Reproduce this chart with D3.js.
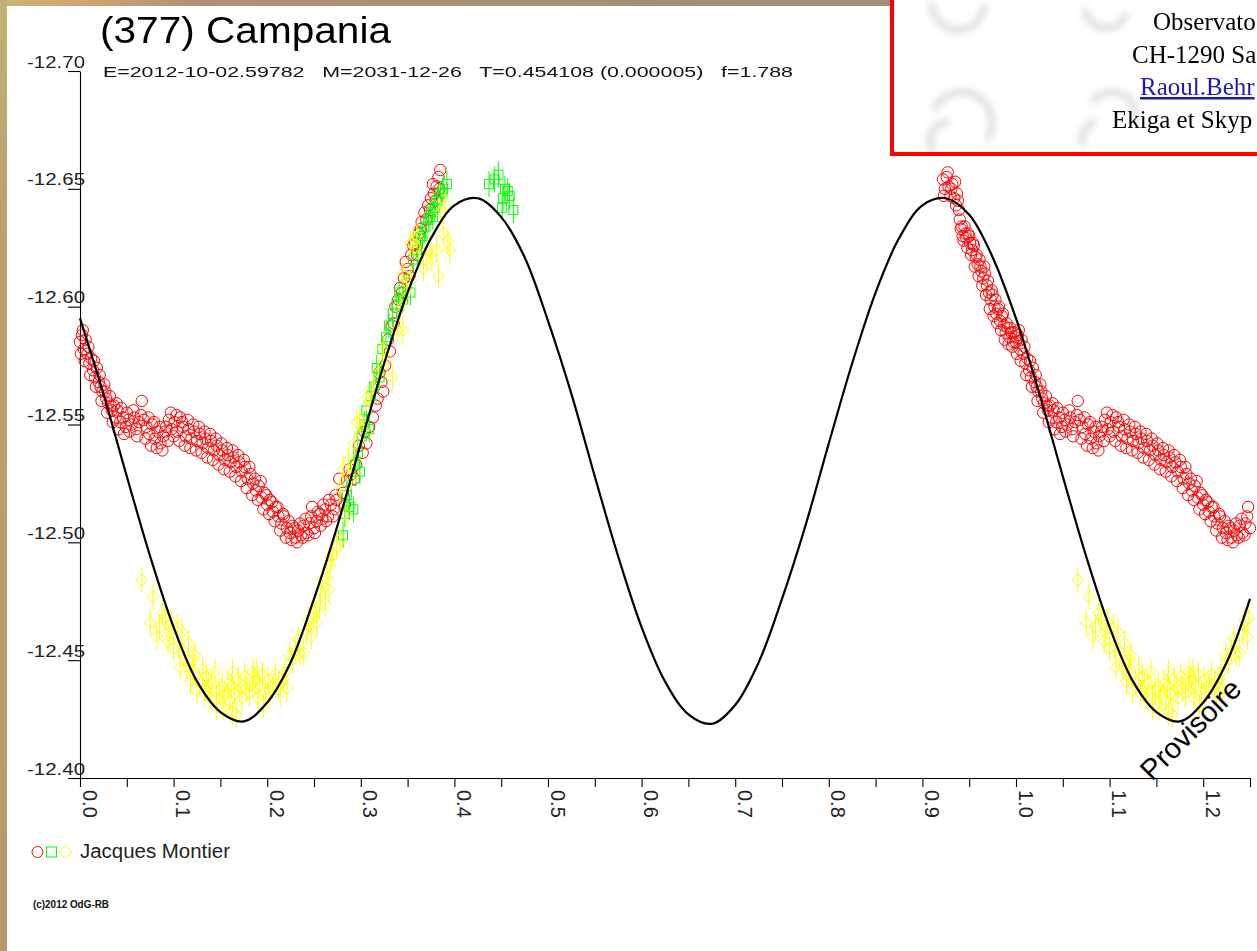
<!DOCTYPE html>
<html>
<head>
<meta charset="utf-8">
<title>(377) Campania</title>
<script src="https://cdn.jsdelivr.net/npm/d3@7"></script>
<style>
  html, body { margin: 0; padding: 0; background: #fff; overflow: hidden; }
  svg { display: block; }
  .sans { font-family: "Liberation Sans", Arial, Helvetica, sans-serif; }
  .serif { font-family: "Liberation Serif", "Times New Roman", Times, serif; }
</style>
</head>
<body>
<div id="chart"></div>
<script>
// ---------------------------------------------------------------
// Texts
// ---------------------------------------------------------------
const titleText = "(377) Campania";
const subtitleText = "E=2012-10-02.59782   M=2031-12-26   T=0.454108 (0.000005)   f=1.788";
const observerName = "Jacques Montier";
const creditText = "(c)2012 OdG-RB";
const stampText = "Provisoire";
const headerLines = ["Observato", "CH-1290 Sa", "Raoul.Behr", "Ekiga et Skyp"];

// ---------------------------------------------------------------
// Axes
// ---------------------------------------------------------------
const yTicks = [-12.70, -12.65, -12.60, -12.55, -12.50, -12.45, -12.40];
const yTickLabels = ["-12.70", "-12.65", "-12.60", "-12.55", "-12.50", "-12.45", "-12.40"];
const xMajorTicks = [0.0, 0.1, 0.2, 0.3, 0.4, 0.5, 0.6, 0.7, 0.8, 0.9, 1.0, 1.1, 1.2];
const xTickLabels = ["0.0", "0.1", "0.2", "0.3", "0.4", "0.5", "0.6", "0.7", "0.8", "0.9", "1.0", "1.1", "1.2"];
const xMinorTicks = [0.05, 0.15, 0.25, 0.35, 0.45, 0.55, 0.65, 0.75, 0.85, 0.95, 1.05, 1.15, 1.25];
const phaseMax = 1.25;

// ---------------------------------------------------------------
// Fitted model (phase in [0,1), reduced magnitude)
// ---------------------------------------------------------------
const modelPhase = [0.000, 0.025, 0.050, 0.075, 0.100, 0.125, 0.150, 0.175, 0.200, 0.225,
                    0.250, 0.275, 0.300, 0.325, 0.350, 0.375, 0.400, 0.425, 0.450, 0.475,
                    0.500, 0.525, 0.550, 0.575, 0.600, 0.625, 0.650, 0.675, 0.700, 0.725,
                    0.750, 0.775, 0.800, 0.825, 0.850, 0.875, 0.900, 0.925, 0.950, 0.975];
const modelMag   = [-12.595, -12.563, -12.528, -12.494, -12.464, -12.441, -12.428, -12.424, -12.432, -12.449,
                    -12.476, -12.507, -12.542, -12.576, -12.606, -12.629, -12.643, -12.646, -12.638, -12.621,
                    -12.594, -12.563, -12.528, -12.494, -12.464, -12.441, -12.427, -12.423, -12.431, -12.449,
                    -12.476, -12.507, -12.542, -12.576, -12.606, -12.629, -12.643, -12.646, -12.639, -12.621];

// ---------------------------------------------------------------
// Observations: [phase, magnitude]
// ---------------------------------------------------------------
const redCircles = [
  [0.000,-12.585],[0.002,-12.588],[0.004,-12.582],[0.006,-12.586],[0.008,-12.580],[0.010,-12.576],
  [0.012,-12.578],[0.014,-12.573],[0.016,-12.570],[0.018,-12.574],[0.020,-12.568],[0.022,-12.566],
  [0.024,-12.564],[0.026,-12.567],[0.028,-12.561],[0.030,-12.559],[0.032,-12.562],[0.034,-12.556],
  [0.036,-12.558],[0.038,-12.553],[0.040,-12.556],[0.043,-12.551],[0.046,-12.553],[0.049,-12.549],
  [0.052,-12.552],[0.055,-12.550],[0.058,-12.553],[0.061,-12.545],[0.063,-12.551],[0.066,-12.560],
  [0.068,-12.552],[0.071,-12.549],[0.074,-12.546],[0.077,-12.550],[0.080,-12.544],[0.083,-12.547],
  [0.086,-12.542],[0.089,-12.545],[0.092,-12.549],[0.095,-12.552],[0.098,-12.548],[0.101,-12.551],
  [0.104,-12.547],[0.107,-12.553],[0.110,-12.549],[0.113,-12.545],[0.116,-12.548],[0.119,-12.544],
  [0.122,-12.547],[0.125,-12.543],[0.128,-12.546],[0.131,-12.542],[0.134,-12.544],[0.137,-12.540],
  [0.140,-12.543],[0.143,-12.539],[0.146,-12.541],[0.149,-12.537],[0.152,-12.539],[0.155,-12.535],
  [0.158,-12.537],[0.161,-12.534],[0.164,-12.536],[0.167,-12.532],[0.170,-12.534],[0.173,-12.530],
  [0.176,-12.532],[0.179,-12.527],[0.182,-12.529],[0.185,-12.525],[0.188,-12.522],[0.191,-12.524],
  [0.194,-12.519],[0.197,-12.521],[0.200,-12.516],[0.203,-12.518],[0.206,-12.513],[0.209,-12.515],
  [0.212,-12.511],[0.215,-12.508],[0.218,-12.511],[0.221,-12.506],[0.224,-12.504],[0.227,-12.507],
  [0.230,-12.502],[0.233,-12.505],[0.236,-12.503],[0.239,-12.507],[0.242,-12.504],[0.245,-12.508],
  [0.248,-12.515],[0.250,-12.506],[0.253,-12.509],[0.256,-12.512],[0.259,-12.510],[0.262,-12.514],
  [0.265,-12.511],[0.268,-12.516],[0.271,-12.514],[0.274,-12.518],[0.277,-12.527],
  [0.001,-12.580],[0.003,-12.590],[0.005,-12.577],[0.009,-12.583],[0.011,-12.571],[0.015,-12.577],
  [0.017,-12.566],[0.021,-12.571],[0.023,-12.560],[0.027,-12.564],[0.029,-12.555],[0.033,-12.558],
  [0.035,-12.551],[0.039,-12.559],
  [0.041,-12.548],[0.044,-12.557],[0.047,-12.546],[0.050,-12.555],[0.053,-12.547],[0.057,-12.556],
  [0.060,-12.548],[0.065,-12.554],[0.070,-12.544],[0.073,-12.553],[0.076,-12.541],[0.079,-12.551],
  [0.082,-12.540],[0.085,-12.549],[0.088,-12.539],[0.091,-12.547],[0.094,-12.543],[0.097,-12.555],
  [0.100,-12.545],[0.103,-12.554],[0.106,-12.543],[0.109,-12.551],[0.112,-12.541],[0.115,-12.552],
  [0.118,-12.540],[0.121,-12.550],[0.124,-12.539],[0.127,-12.549],[0.130,-12.538],[0.133,-12.547],
  [0.136,-12.536],[0.139,-12.546],[0.142,-12.535],[0.145,-12.544],[0.148,-12.533],[0.151,-12.542],
  [0.154,-12.531],[0.157,-12.540],[0.160,-12.530],[0.163,-12.539],[0.166,-12.528],[0.169,-12.537],
  [0.172,-12.526],[0.175,-12.535],[0.178,-12.523],[0.181,-12.532],[0.184,-12.520],[0.187,-12.527],
  [0.190,-12.518],[0.193,-12.526],[0.196,-12.514],[0.199,-12.520],[0.202,-12.512],[0.205,-12.517],
  [0.208,-12.509],[0.211,-12.515],[0.214,-12.505],[0.217,-12.512],[0.220,-12.502],[0.223,-12.509],
  [0.226,-12.501],[0.229,-12.506],[0.232,-12.500],[0.235,-12.508],[0.238,-12.502],[0.241,-12.510],
  [0.244,-12.503],[0.247,-12.511],[0.251,-12.504],[0.254,-12.513],[0.257,-12.507],[0.260,-12.516],
  [0.263,-12.509],[0.266,-12.518],[0.270,-12.511],[0.273,-12.520],
  [0.281,-12.521],[0.285,-12.526],[0.290,-12.529],[0.295,-12.533],[0.302,-12.538],[0.306,-12.542],
  [0.313,-12.553],[0.318,-12.561],[0.322,-12.568],[0.326,-12.575],[0.329,-12.586],[0.333,-12.592],
  [0.337,-12.600],[0.342,-12.608],[0.346,-12.612],[0.350,-12.616],[0.354,-12.622],[0.358,-12.627],
  [0.362,-12.631],[0.365,-12.636],[0.368,-12.640],[0.372,-12.643],[0.375,-12.646],[0.378,-12.648],
  [0.381,-12.651],[0.383,-12.655],[0.385,-12.658],
  [0.283,-12.516],[0.288,-12.531],[0.293,-12.527],[0.298,-12.541],[0.304,-12.547],[0.309,-12.549],
  [0.316,-12.558],[0.320,-12.572],[0.324,-12.564],[0.331,-12.581],[0.335,-12.593],[0.340,-12.603],
  [0.344,-12.606],[0.348,-12.619],[0.352,-12.613],[0.356,-12.626],[0.360,-12.622],[0.364,-12.633],
  [0.370,-12.637],[0.374,-12.641],[0.377,-12.652],[0.380,-12.645],[0.384,-12.650],
  [0.922,-12.654],[0.924,-12.650],[0.926,-12.655],[0.928,-12.651],[0.930,-12.647],[0.932,-12.652],
  [0.934,-12.646],[0.936,-12.643],[0.937,-12.648],[0.939,-12.641],[0.941,-12.633],[0.943,-12.630],
  [0.945,-12.634],[0.947,-12.629],[0.949,-12.631],[0.951,-12.627],[0.953,-12.624],[0.955,-12.626],
  [0.957,-12.621],[0.959,-12.618],[0.961,-12.620],[0.963,-12.615],[0.965,-12.612],[0.967,-12.614],
  [0.969,-12.609],[0.971,-12.606],[0.973,-12.603],[0.975,-12.605],[0.977,-12.600],[0.979,-12.597],
  [0.981,-12.599],[0.983,-12.594],[0.985,-12.596],[0.987,-12.592],[0.989,-12.589],[0.991,-12.591],
  [0.993,-12.587],[0.995,-12.589],[0.997,-12.585],[0.999,-12.587],
  [0.923,-12.647],[0.927,-12.657],[0.931,-12.650],[0.935,-12.653],[0.938,-12.645],[0.940,-12.637],
  [0.942,-12.634],[0.944,-12.628],[0.946,-12.631],[0.948,-12.625],[0.950,-12.630],[0.952,-12.622],
  [0.954,-12.627],[0.956,-12.617],[0.958,-12.622],[0.960,-12.613],[0.962,-12.617],[0.964,-12.609],
  [0.966,-12.617],[0.968,-12.605],[0.970,-12.611],[0.972,-12.599],[0.974,-12.607],[0.976,-12.596],
  [0.978,-12.603],[0.980,-12.593],[0.982,-12.600],[0.984,-12.590],[0.986,-12.597],[0.988,-12.586],
  [0.990,-12.593],[0.992,-12.584],[0.994,-12.591],[0.996,-12.583],[0.998,-12.589]
];

const greenSquares = [
  [0.281,-12.503],[0.283,-12.512],[0.285,-12.520],[0.288,-12.515],[0.290,-12.526],[0.292,-12.514],
  [0.294,-12.533],[0.297,-12.538],[0.299,-12.530],[0.301,-12.545],[0.304,-12.550],[0.306,-12.556],
  [0.309,-12.548],[0.311,-12.562],[0.314,-12.566],[0.317,-12.574],[0.320,-12.570],[0.323,-12.582],
  [0.327,-12.587],[0.330,-12.592],[0.334,-12.597],[0.338,-12.601],[0.341,-12.606],[0.345,-12.603],
  [0.349,-12.610],[0.353,-12.606],[0.356,-12.620],[0.360,-12.624],[0.363,-12.629],[0.366,-12.630],
  [0.369,-12.634],[0.372,-12.637],[0.375,-12.640],[0.377,-12.638],[0.379,-12.642],[0.382,-12.645],
  [0.385,-12.648],[0.388,-12.650],[0.392,-12.652],
  [0.437,-12.652],[0.443,-12.654],[0.447,-12.656],[0.451,-12.642],[0.452,-12.646],[0.454,-12.650],
  [0.457,-12.649],[0.459,-12.647],[0.463,-12.641]
];

const yellowDiamonds = [
  [0.066,-12.484],[0.078,-12.477],[0.075,-12.466],[0.085,-12.464],[0.082,-12.460],[0.091,-12.468],
  [0.098,-12.466],[0.096,-12.462],[0.104,-12.464],[0.109,-12.462],[0.105,-12.456],[0.116,-12.457],
  [0.107,-12.447],[0.114,-12.447],[0.121,-12.450],[0.120,-12.445],[0.125,-12.437],[0.128,-12.441],
  [0.135,-12.443],[0.137,-12.439],[0.139,-12.434],[0.146,-12.434],[0.153,-12.430],[0.152,-12.439],
  [0.158,-12.440],[0.163,-12.445],[0.162,-12.439],[0.169,-12.442],[0.167,-12.427],[0.173,-12.434],
  [0.178,-12.438],[0.184,-12.440],[0.189,-12.445],[0.185,-12.445],[0.192,-12.439],[0.190,-12.434],
  [0.198,-12.436],[0.201,-12.442],[0.206,-12.439],[0.212,-12.440],[0.217,-12.442],[0.221,-12.438],
  [0.224,-12.452],[0.230,-12.454],[0.235,-12.453],[0.239,-12.453],[0.242,-12.462],[0.244,-12.467],
  [0.249,-12.468],[0.253,-12.466],[0.256,-12.473],[0.262,-12.474],[0.259,-12.484],[0.264,-12.485],
  [0.267,-12.490],[0.269,-12.494],[0.270,-12.495],[0.274,-12.498],[0.278,-12.501],[0.163,-12.428],
  [0.146,-12.430],
  [0.088,-12.470],[0.094,-12.458],[0.100,-12.455],[0.111,-12.452],[0.118,-12.441],[0.123,-12.452],
  [0.131,-12.446],[0.133,-12.436],[0.141,-12.440],[0.144,-12.445],[0.149,-12.437],[0.155,-12.435],
  [0.160,-12.433],[0.165,-12.436],[0.171,-12.438],[0.176,-12.443],[0.181,-12.436],[0.187,-12.441],
  [0.195,-12.444],[0.196,-12.431],[0.203,-12.437],[0.209,-12.444],[0.214,-12.436],[0.219,-12.445],
  [0.227,-12.450],[0.233,-12.459],[0.247,-12.460],[0.251,-12.472],[0.257,-12.479],[0.266,-12.480],
  [0.278,-12.523],[0.281,-12.531],[0.284,-12.512],[0.287,-12.535],[0.290,-12.528],[0.293,-12.542],
  [0.296,-12.551],[0.299,-12.552],[0.303,-12.548],[0.306,-12.561],[0.310,-12.560],[0.314,-12.566],
  [0.319,-12.572],[0.324,-12.582],[0.328,-12.578],[0.334,-12.570],[0.339,-12.590],[0.342,-12.599],
  [0.345,-12.590],[0.345,-12.614],[0.349,-12.606],[0.353,-12.611],[0.353,-12.627],[0.356,-12.627],
  [0.360,-12.630],[0.363,-12.622],[0.367,-12.616],[0.370,-12.620],[0.374,-12.625],[0.376,-12.620],
  [0.381,-12.624],[0.383,-12.613],[0.385,-12.640],[0.388,-12.631],[0.390,-12.643],[0.393,-12.628],
  [0.395,-12.624]
];

// one-sigma photometric errors per series (mag)
const greenError = 0.0055;
const yellowError = 0.0055;

// ---------------------------------------------------------------
// Layout
// ---------------------------------------------------------------
const W = 1257, H = 951;
const svg = d3.select("#chart").append("svg").attr("width", W).attr("height", H);
const defs = svg.append("defs");

const x = d3.scaleLinear().domain([0, phaseMax]).range([80, 1250]);
const y = d3.scaleLinear().domain([-12.40, -12.70]).range([778, 71]);

// page frame: tinted strip on the top and left edges
const topGrad = defs.append("linearGradient").attr("id", "topGrad").attr("x1", 0).attr("x2", 1).attr("y1", 0).attr("y2", 0);
[["0%", "#c4b578"], ["8%", "#d5a573"], ["22%", "#ad9177"], ["100%", "#a28c78"]]
  .forEach(([o, c]) => topGrad.append("stop").attr("offset", o).attr("stop-color", c));
const leftGrad = defs.append("linearGradient").attr("id", "leftGrad").attr("x1", 0).attr("x2", 0).attr("y1", 0).attr("y2", 1);
[["0%", "#c0b276"], ["25%", "#b9a072"], ["100%", "#b8986e"]]
  .forEach(([o, c]) => leftGrad.append("stop").attr("offset", o).attr("stop-color", c));

svg.append("rect").attr("width", W).attr("height", H).attr("fill", "#fff");
svg.append("rect").attr("x", 0).attr("y", 0).attr("width", 892).attr("height", 6).attr("fill", "url(#topGrad)");
svg.append("rect").attr("x", 0).attr("y", 0).attr("width", 7).attr("height", H).attr("fill", "url(#leftGrad)");

// ---------------------------------------------------------------
// Header box, top right
// ---------------------------------------------------------------
const box = svg.append("g");
defs.append("clipPath").attr("id", "boxClip").append("rect").attr("x", 894).attr("y", 0).attr("width", 400).attr("height", 152);
defs.append("filter").attr("id", "soft").attr("x", "-50%").attr("y", "-50%").attr("width", "200%").attr("height", "200%")
  .append("feGaussianBlur").attr("stdDeviation", 3.5);
box.append("rect").attr("x", 892).attr("y", -10).attr("width", 400).attr("height", 164).attr("fill", "#fff");
const marble = box.append("g").attr("clip-path", "url(#boxClip)").append("g").attr("filter", "url(#soft)")
  .attr("fill", "none").attr("stroke", "#d4d4d4").attr("stroke-width", 7).attr("opacity", 0.75);
const swirl = d3.arc();
[[958, 4, 26, 1.6, 4.8], [1106, 6, 22, 1.9, 4.6], [962, 122, 30, -1.2, 2.2], [1112, 116, 24, -1.0, 1.9],
 [948, 140, 18, 4.0, 6.4], [1098, 138, 16, 4.2, 6.2]]
  .forEach(([cx, cy, r, a0, a1]) => marble.append("path")
    .attr("transform", `translate(${cx},${cy})`)
    .attr("d", swirl({ innerRadius: r, outerRadius: r, startAngle: a0, endAngle: a1 })));
box.append("rect").attr("x", 892).attr("y", -10).attr("width", 400).attr("height", 164)
  .attr("fill", "none").attr("stroke", "#ff0000").attr("stroke-width", 4);
const headerX = [1153, 1132, 1140, 1112];
const headerY = [30, 63, 95, 128];
headerLines.forEach((t, i) => {
  const tx = box.append("text").attr("class", "serif").attr("x", headerX[i]).attr("y", headerY[i])
    .attr("font-size", 25).attr("fill", i === 2 ? "#1c1cb4" : "#000").text(t);
  if (i === 2) tx.attr("text-decoration", "underline");
});

// ---------------------------------------------------------------
// Title block
// ---------------------------------------------------------------
svg.append("text").attr("class", "sans").attr("x", 100).attr("y", 43).attr("font-size", 36)
  .attr("textLength", 291).attr("lengthAdjust", "spacingAndGlyphs").attr("fill", "#000").text(titleText);
svg.append("text").attr("class", "sans").attr("x", 103).attr("y", 77).attr("font-size", 15.5)
  .attr("xml:space", "preserve").style("white-space", "pre")
  .attr("textLength", 690).attr("lengthAdjust", "spacingAndGlyphs").attr("fill", "#111").text(subtitleText);

// ---------------------------------------------------------------
// Axes
// ---------------------------------------------------------------
const yAxis = d3.axisLeft(y).tickValues(yTicks).tickSize(12).tickSizeOuter(0)
  .tickFormat((d, i) => yTickLabels[i]);
const gy = svg.append("g").attr("transform", "translate(80,0)").call(yAxis);
gy.selectAll("path, line").attr("stroke", "#000").attr("stroke-width", 1.1);
gy.selectAll("text").attr("class", "sans").attr("x", 0).attr("dy", null).attr("y", 0)
  .attr("transform", "translate(5,-4)").attr("font-size", 16.5).attr("fill", "#222")
  .attr("textLength", 58).attr("lengthAdjust", "spacingAndGlyphs").attr("text-anchor", "end");
gy.attr("font-family", null).attr("font-size", null);

const xAxis = d3.axisBottom(x).tickValues(xMajorTicks.concat(xMinorTicks)).tickSize(9).tickSizeOuter(0)
  .tickFormat(d => { const i = xMajorTicks.indexOf(d); return i >= 0 ? xTickLabels[i] : ""; });
const gx = svg.append("g").attr("transform", "translate(0,778)").call(xAxis);
gx.select(".domain").remove();
gx.selectAll("line").attr("stroke", "#000").attr("stroke-width", 1.1);
gx.selectAll("text").attr("class", "sans").attr("x", 0).attr("y", 0).attr("dy", null)
  .attr("transform", "translate(2,12) rotate(90)").attr("text-anchor", "start")
  .attr("font-size", 20).attr("fill", "#222");
gx.attr("font-family", null).attr("font-size", null);
svg.append("line").attr("x1", 68).attr("x2", x(phaseMax)).attr("y1", 778.5).attr("y2", 778.5)
  .attr("stroke", "#000").attr("stroke-width", 1.1);

// ---------------------------------------------------------------
// Points, wrapped in phase up to phaseMax
// ---------------------------------------------------------------
const wrap = pts => pts.concat(pts.filter(p => p[0] + 1 <= phaseMax).map(p => [p[0] + 1, p[1]]));
const plot = svg.append("g");

plot.append("g").selectAll("circle").data(wrap(redCircles)).join("circle")
  .attr("cx", d => x(d[0])).attr("cy", d => y(d[1])).attr("r", 5.7)
  .attr("fill", "none").attr("stroke", "#ff0000").attr("stroke-width", 1);

const gGreen = plot.append("g").attr("stroke", "#00ff00").attr("fill", "none").attr("stroke-width", 1);
gGreen.selectAll("line").data(wrap(greenSquares)).join("line")
  .attr("x1", d => x(d[0])).attr("x2", d => x(d[0]))
  .attr("y1", d => y(d[1] - greenError)).attr("y2", d => y(d[1] + greenError));
gGreen.selectAll("rect").data(wrap(greenSquares)).join("rect")
  .attr("x", d => x(d[0]) - 4.5).attr("y", d => y(d[1]) - 4.5).attr("width", 9).attr("height", 9);

const diamond = (cx, cy, s) => `M${cx},${cy - s}L${cx + s},${cy}L${cx},${cy + s}L${cx - s},${cy}Z`;
const gYellow = plot.append("g").attr("stroke", "#ffff00").attr("fill", "none").attr("stroke-width", 1);
gYellow.selectAll("line").data(wrap(yellowDiamonds)).join("line")
  .attr("x1", d => x(d[0])).attr("x2", d => x(d[0]))
  .attr("y1", d => y(d[1] - yellowError)).attr("y2", d => y(d[1] + yellowError));
gYellow.selectAll("path").data(wrap(yellowDiamonds)).join("path")
  .attr("d", d => diamond(x(d[0]), y(d[1]), 6));

// ---------------------------------------------------------------
// Model curve
// ---------------------------------------------------------------
const model = modelPhase.map((p, i) => [p, modelMag[i]]);
const modelPts = model.concat(model.map(p => [p[0] + 1, p[1]]).filter(p => p[0] <= phaseMax));
const line = d3.line().x(d => x(d[0])).y(d => y(d[1])).curve(d3.curveCatmullRom.alpha(0.5));
svg.append("path").datum(modelPts).attr("d", line)
  .attr("fill", "none").attr("stroke", "#000").attr("stroke-width", 2.2).attr("stroke-linejoin", "round");

// ---------------------------------------------------------------
// Stamp, legend, credit
// ---------------------------------------------------------------
svg.append("text").attr("class", "sans").attr("transform", "translate(1152,782) rotate(-45)")
  .attr("font-size", 29).attr("fill", "#000").text(stampText);

const lg = svg.append("g");
lg.append("circle").attr("cx", 37.5).attr("cy", 852).attr("r", 5.5).attr("fill", "none").attr("stroke", "#ff0000");
lg.append("rect").attr("x", 46.5).attr("y", 847).attr("width", 10).attr("height", 10).attr("fill", "none").attr("stroke", "#00ff00");
lg.append("path").attr("d", diamond(65.5, 852, 6.5)).attr("fill", "none").attr("stroke", "#ffff00");
lg.append("text").attr("class", "sans").attr("x", 80).attr("y", 858).attr("font-size", 19.5)
  .attr("textLength", 150).attr("lengthAdjust", "spacingAndGlyphs").attr("fill", "#222").text(observerName);

svg.append("text").attr("class", "sans").attr("x", 33).attr("y", 908).attr("font-size", 10)
  .attr("font-weight", "bold").attr("textLength", 76).attr("lengthAdjust", "spacingAndGlyphs")
  .attr("fill", "#111").text(creditText);
</script>
</body>
</html>
